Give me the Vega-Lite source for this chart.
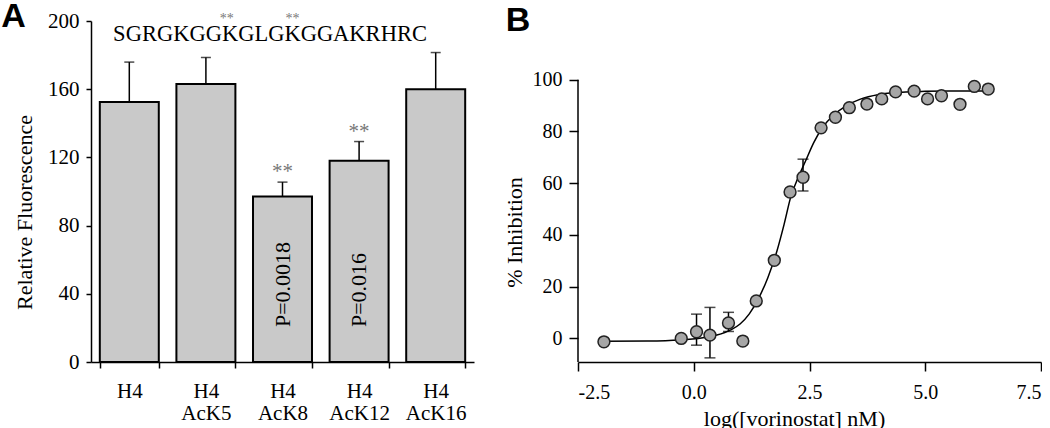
{
  "$schema": "https://vega.github.io/schema/vega-lite/v6.json",
  "padding": {"left": 1, "top": -1, "right": 0, "bottom": 0},
  "background": "white",
  "spacing": 29,
  "config": {
    "view": {"stroke": null},
    "font": "Liberation Serif",
    "scale": {"continuousPadding": 0},
    "axis": {
      "domainColor": "#000", "domainWidth": 1.5, "tickColor": "#000", "tickWidth": 1.5,
      "labelColor": "#000", "titleColor": "#000", "labelFont": "Liberation Serif", "titleFont": "Liberation Serif",
      "titleFontWeight": "normal", "grid": false, "labelFontSize": 21, "titleFontSize": 22
    }
  },
  "hconcat": [
    {
      "width": 383,
      "height": 341,
      "resolve": {"scale": {"x": "independent"}},
      "layer": [
        {
          "encoding": {
            "x": {
              "field": "cat", "type": "nominal",
              "scale": {"domain": ["H4", "H4|AcK5", "H4|AcK8", "H4|AcK12", "H4|AcK16"], "paddingInner": 0.23, "paddingOuter": 0.115},
              "axis": {"title": null, "labelExpr": "split(datum.label, '|')", "labelLineHeight": 22, "tickBand": "extent", "tickSize": 6, "labelPadding": 12, "labelAngle": 0, "labelFontSize": 21, "labelFont": "Liberation Serif"}
            }
          },
          "layer": [
            {
              "data": {"values": [
                {"cat": "H4", "val": 152.5, "err": 175.9},
                {"cat": "H4|AcK5", "val": 163, "err": 178.6},
                {"cat": "H4|AcK8", "val": 97, "err": 105.5},
                {"cat": "H4|AcK12", "val": 118, "err": 129.3},
                {"cat": "H4|AcK16", "val": 160, "err": 181.5}
              ]},
              "layer": [
                {
                  "mark": {"type": "bar", "fill": "#c9c9c9", "stroke": "#000", "strokeWidth": 2},
                  "encoding": {
                    "y": {"field": "val", "type": "quantitative", "scale": {"domain": [0, 200], "nice": false, "padding": 0},
                      "axis": {"values": [0, 40, 80, 120, 160, 200], "tickSize": 5, "labelPadding": 7, "labelFont": "Liberation Serif", "titleFont": "Liberation Serif", "title": "Relative Fluorescence", "titleX": -67, "titleY": 191, "titleBaseline": "middle"}}
                  }
                },
                {
                  "mark": {"type": "rule", "color": "#000", "strokeWidth": 1.5},
                  "encoding": {"y": {"field": "val", "type": "quantitative"}, "y2": {"field": "err"}}
                },
                {
                  "mark": {"type": "tick", "color": "#000", "size": 10, "thickness": 1.5},
                  "encoding": {"y": {"field": "err", "type": "quantitative"}}
                }
              ]
            },
            {
              "data": {"values": [
                {"cat": "H4|AcK8", "y": 107.9, "t": "**"},
                {"cat": "H4|AcK12", "y": 131.4, "t": "**"}
              ]},
              "mark": {"type": "text", "fontSize": 21, "color": "#777", "baseline": "alphabetic", "align": "center"},
              "encoding": {"y": {"field": "y", "type": "quantitative"}, "text": {"field": "t"}}
            },
            {
              "data": {"values": [
                {"cat": "H4|AcK8", "y": 20.5, "t": "P=0.0018"},
                {"cat": "H4|AcK12", "y": 20.5, "t": "P=0.016"}
              ]},
              "mark": {"type": "text", "fontSize": 22, "color": "#000", "angle": 270, "align": "left", "baseline": "middle"},
              "encoding": {"y": {"field": "y", "type": "quantitative"}, "text": {"field": "t"}}
            }
          ]
        },
        {
          "data": {"values": [
            {"x": -1.01, "y": 196.5, "t": "A", "k": "panel"},
            {"x": 2.337, "y": 188.4, "t": "SGRGKGGKGLGKGGAKRHRC", "k": "seq"},
            {"x": 1.772, "y": 198.8, "t": "**", "k": "ast"},
            {"x": 2.63, "y": 198.8, "t": "**", "k": "ast"}
          ]},
          "encoding": {
            "x": {"field": "x", "type": "quantitative", "scale": {"domain": [0, 5], "nice": false, "zero": false, "padding": 0}, "axis": null},
            "y": {"field": "y", "type": "quantitative"},
            "text": {"field": "t"}
          },
          "layer": [
            {"transform": [{"filter": "datum.k === 'panel'"}], "mark": {"type": "text", "font": "Liberation Sans", "fontWeight": "bold", "fontSize": 34, "align": "center", "baseline": "alphabetic", "color": "#000"}},
            {"transform": [{"filter": "datum.k === 'seq'"}], "mark": {"type": "text", "fontSize": 22.5, "align": "center", "baseline": "alphabetic", "color": "#000"}},
            {"transform": [{"filter": "datum.k === 'ast'"}], "mark": {"type": "text", "fontSize": 14, "align": "center", "baseline": "alphabetic", "color": "#777"}}
          ]
        }
      ]
    },
    {
      "width": 463,
      "height": 341,
      "encoding": {
        "x": {"field": "x", "type": "quantitative", "scale": {"domain": [-2.5, 7.5], "nice": false, "zero": false, "padding": 0},
          "axis": {"values": [-2.5, 0, 2.5, 5, 7.5], "format": ".1f", "labelExpr": "replace(datum.label, '\u2212', '-')", "tickSize": 9, "labelPadding": 11, "labelFontSize": 20, "labelFont": "Liberation Serif", "titleFont": "Liberation Serif", "title": "log([vorinostat] nM)", "titleX": 216, "titleY": 56, "titleBaseline": "middle"}}
      },
      "layer": [
        {
          "data": {"values": [{"x": -2.5, "y0": -9.1, "y1": 100}]},
          "mark": {"type": "rule", "color": "#000", "strokeWidth": 1.5},
          "encoding": {
            "y": {"field": "y0", "type": "quantitative", "scale": {"domain": [-9.1, 122.7], "nice": false, "zero": false, "padding": 0},
              "axis": {"values": [0, 10, 20, 30, 40, 50, 60, 70, 80, 90, 100], "domain": false, "tickSize": 9, "labelPadding": 7, "labelFontSize": 20, "labelFont": "Liberation Serif", "titleFont": "Liberation Serif", "title": "% Inhibition", "titleX": -64, "titleY": 211, "titleBaseline": "middle"}},
            "y2": {"field": "y1"}
          }
        },
        {
          "data": {"values": [
            {"x": -1.94, "y": -1.1}, {"x": -1.0, "y": -1.0}, {"x": -0.3, "y": -0.6}, {"x": 0.2, "y": 0.3},
            {"x": 0.5, "y": 1.3}, {"x": 0.8, "y": 3.3}, {"x": 1.0, "y": 5.6}, {"x": 1.2, "y": 9.5},
            {"x": 1.4, "y": 15.5}, {"x": 1.6, "y": 23.5}, {"x": 1.8, "y": 34}, {"x": 1.95, "y": 44},
            {"x": 2.1, "y": 55}, {"x": 2.25, "y": 62}, {"x": 2.4, "y": 68}, {"x": 2.6, "y": 76},
            {"x": 2.8, "y": 82}, {"x": 3.0, "y": 86}, {"x": 3.3, "y": 90}, {"x": 3.6, "y": 92.5},
            {"x": 4.0, "y": 94.3}, {"x": 4.5, "y": 95.2}, {"x": 5.0, "y": 95.5}, {"x": 5.5, "y": 95.6},
            {"x": 6.0, "y": 95.6}, {"x": 6.36, "y": 95.6}
          ]},
          "mark": {"type": "line", "color": "#000", "strokeWidth": 1.5, "interpolate": "monotone"},
          "encoding": {"y": {"field": "y", "type": "quantitative"}}
        },
        {
          "data": {"values": [
            {"x": -1.94, "y": -1.3}, {"x": -0.27, "y": 0}, {"x": 0.06, "y": 2.6, "lo": -2.6, "hi": 9.4},
            {"x": 0.35, "y": 1.3, "lo": -7.5, "hi": 12}, {"x": 0.75, "y": 6.0, "lo": 2.7, "hi": 10.1},
            {"x": 1.06, "y": -1.0}, {"x": 1.35, "y": 14.5}, {"x": 1.74, "y": 30.2}, {"x": 2.08, "y": 56.6},
            {"x": 2.36, "y": 62.3, "lo": 57, "hi": 69.3}, {"x": 2.75, "y": 81.4}, {"x": 3.06, "y": 85.5},
            {"x": 3.36, "y": 89.2}, {"x": 3.74, "y": 90.6}, {"x": 4.06, "y": 92.6}, {"x": 4.36, "y": 95.3},
            {"x": 4.76, "y": 95.6}, {"x": 5.05, "y": 92.6}, {"x": 5.35, "y": 93.8}, {"x": 5.75, "y": 90.5},
            {"x": 6.06, "y": 97.4}, {"x": 6.36, "y": 96.4}
          ]},
          "layer": [
            {
              "transform": [{"filter": "isValid(datum.lo)"}],
              "mark": {"type": "rule", "color": "#000", "strokeWidth": 1.5},
              "encoding": {"y": {"field": "lo", "type": "quantitative"}, "y2": {"field": "hi"}}
            },
            {
              "transform": [{"filter": "isValid(datum.lo)"}],
              "mark": {"type": "tick", "color": "#000", "orient": "horizontal", "size": 11, "thickness": 1.5},
              "encoding": {"y": {"field": "lo", "type": "quantitative"}}
            },
            {
              "transform": [{"filter": "isValid(datum.lo)"}],
              "mark": {"type": "tick", "color": "#000", "orient": "horizontal", "size": 11, "thickness": 1.5},
              "encoding": {"y": {"field": "hi", "type": "quantitative"}}
            },
            {
              "mark": {"type": "point", "shape": "circle", "filled": true, "fill": "#a6a6a6", "stroke": "#222", "strokeWidth": 1.5, "size": 140, "opacity": 1},
              "encoding": {"y": {"field": "y", "type": "quantitative"}}
            }
          ]
        },
        {
          "data": {"values": [{"x": -3.796, "y": 118.8, "t": "B"}]},
          "mark": {"type": "text", "font": "Liberation Sans", "fontWeight": "bold", "fontSize": 34, "align": "center", "baseline": "alphabetic", "color": "#000"},
          "encoding": {"y": {"field": "y", "type": "quantitative"}, "text": {"field": "t"}}
        }
      ]
    }
  ]
}
